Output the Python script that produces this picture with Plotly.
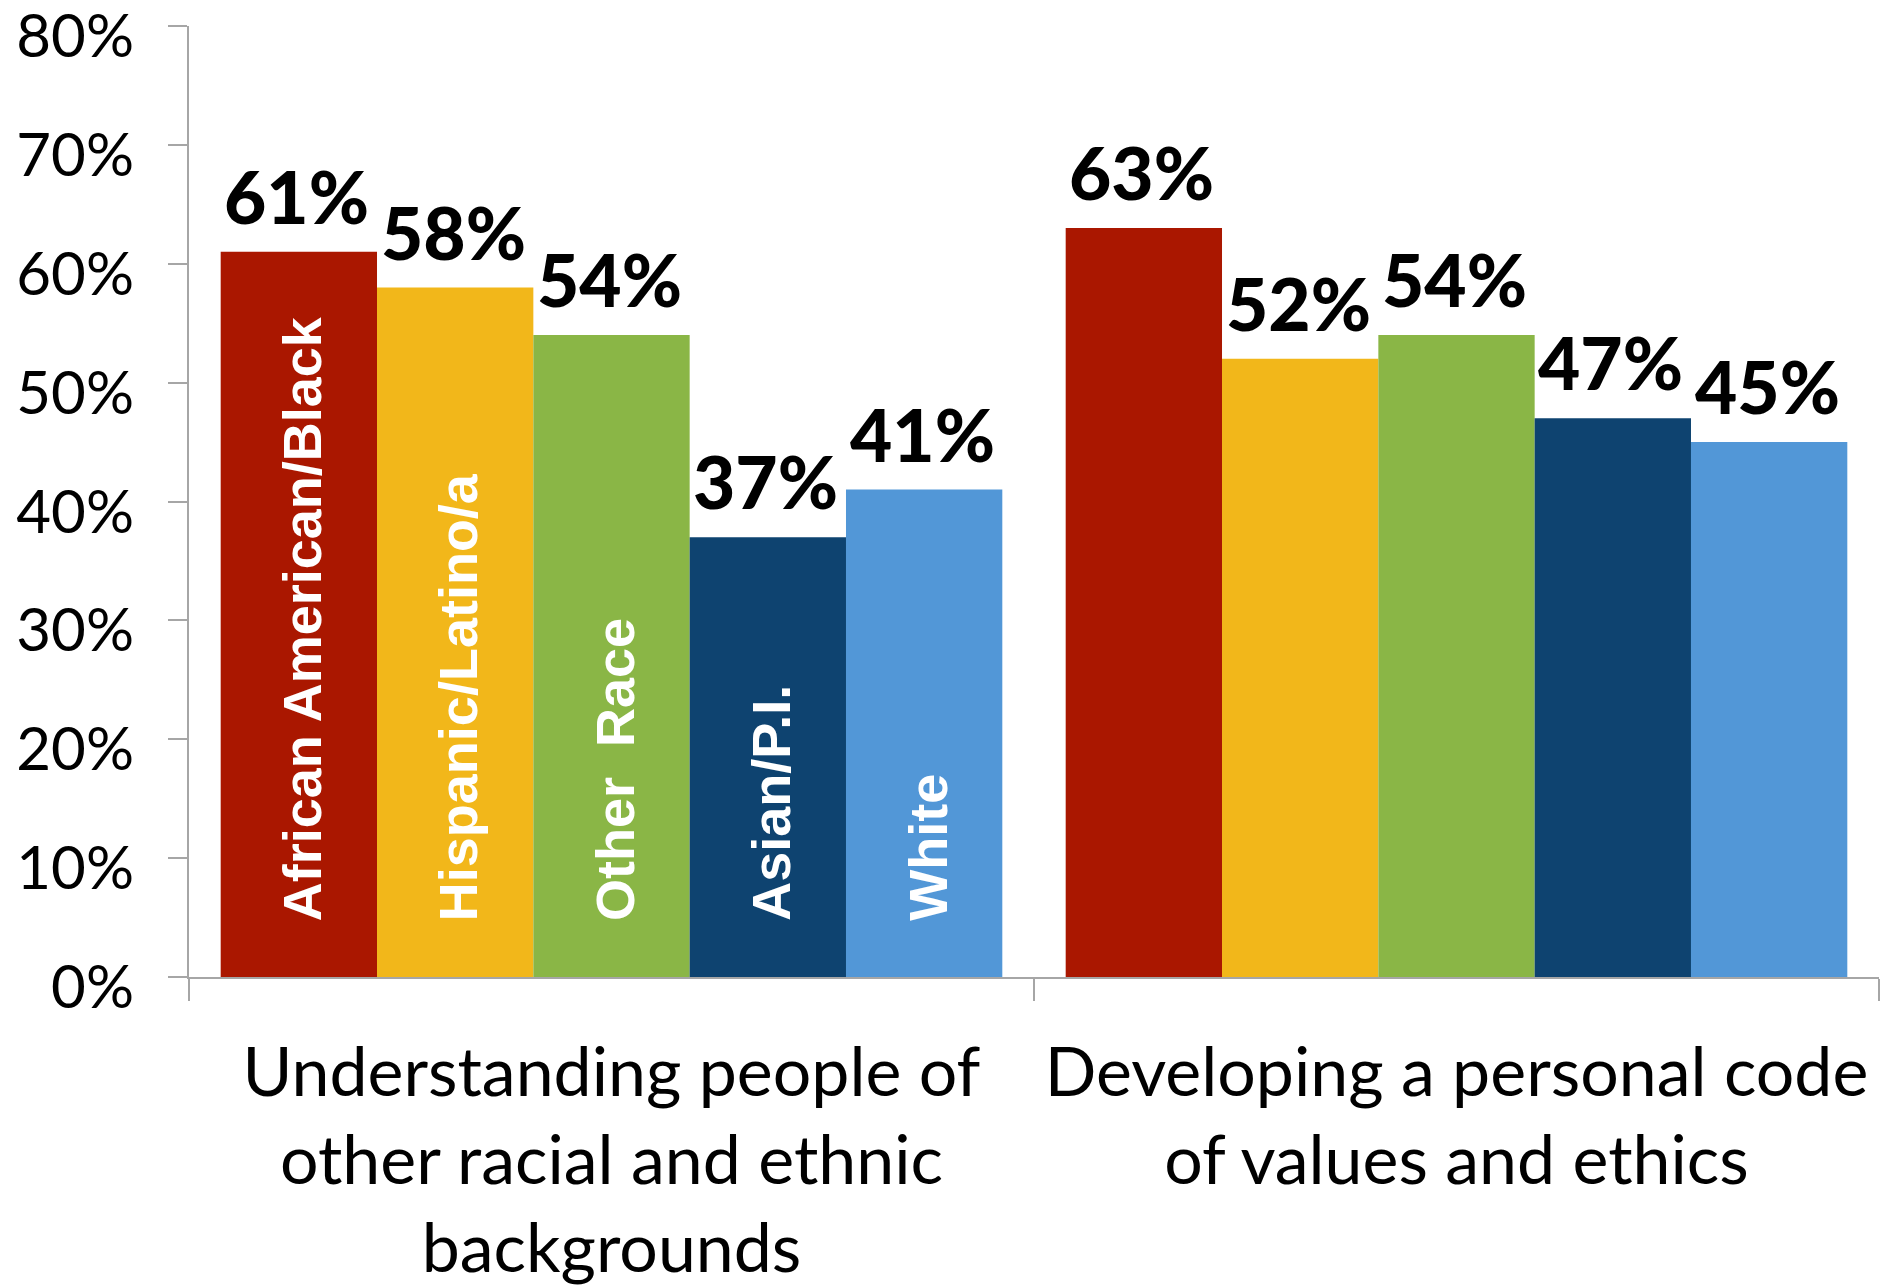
import plotly.graph_objects as go

categories = [
    "Understanding people of<br>other racial and ethnic<br>backgrounds",
    "Developing a personal code<br>of values and ethics",
]
series_names = ["African American/Black", "Hispanic/Latino/a", "Other\u00a0 Race", "Asian/P.I.", "White"]
series_colors = ["#AA1700", "#F2B71A", "#8AB646", "#0E4370", "#5297D7"]
values = {
    "African American/Black": [0.61, 0.63],
    "Hispanic/Latino/a": [0.58, 0.52],
    "Other\u00a0 Race": [0.54, 0.54],
    "Asian/P.I.": [0.37, 0.47],
    "White": [0.41, 0.45],
}
y_tickvals = [0, 0.1, 0.2, 0.3, 0.4, 0.5, 0.6, 0.7, 0.8]

# page body has an 8px margin, so the figure origin sits at (8, 8)
W, H = 1884, 1279
ML, MR, MT, MB = 181, 13, 18, 310
BARGAP = 0.075

fig = go.Figure()
for name, color in zip(series_names, series_colors):
    fig.add_trace(go.Bar(
        name=name,
        x=categories,
        y=values[name],
        marker=dict(color=color, line=dict(width=0)),
        showlegend=False,
    ))

plot_w = W - ML - MR
bar_w = plot_w / len(categories) * (1 - BARGAP) / len(series_names)
n = len(series_names)

# value labels above every bar
for i, name in enumerate(series_names):
    for cat, v in zip(categories, values[name]):
        fig.add_annotation(
            x=cat, y=v, xref="x", yref="y",
            text=f"{v:.0%}", showarrow=False,
            xanchor="center", yanchor="bottom",
            xshift=(i - (n - 1) / 2) * bar_w - 2, yshift=10,
            font=dict(family="Lato", size=73, color="black", weight=900),
        )

# category labels written vertically inside the first group's bars
for i, name in enumerate(series_names):
    fig.add_annotation(
        x=categories[0], y=0, xref="x", yref="y",
        text=name, textangle=-90, showarrow=False,
        xanchor="center", yanchor="bottom",
        xshift=(i - (n - 1) / 2) * bar_w + 3, yshift=54,
        font=dict(family="Liberation Sans", size=54, color="white", weight="bold"),
    )

axis_grey = "#A6A6A6"
fig.update_layout(
    width=W, height=H,
    margin=dict(l=ML, r=MR, t=MT, b=MB, autoexpand=False),
    paper_bgcolor="white", plot_bgcolor="white",
    barmode="group", bargap=BARGAP, bargroupgap=0,
    xaxis=dict(
        automargin=False, tickangle=0,
        showline=True, linecolor=axis_grey, linewidth=2,
        ticks="outside", tickson="boundaries", ticklen=22, tickwidth=2, tickcolor=axis_grey,
        tickfont=dict(family="Lato", size=68, color="black"),
        ticklabelstandoff=35, ticklabeloverflow="allow",
        showgrid=False,
    ),
    yaxis=dict(
        automargin=False,
        range=[0, 0.8], tickvals=y_tickvals, tickformat=".0%",
        showline=True, linecolor=axis_grey, linewidth=2,
        ticks="outside", ticklen=19, tickwidth=2, tickcolor=axis_grey,
        tickfont=dict(family="Lato", size=60, color="black"),
        ticklabelstandoff=22, ticklabelshift=10, ticklabeloverflow="allow",
        showgrid=False, zeroline=False,
    ),
)

fig.write_html("out.html")
